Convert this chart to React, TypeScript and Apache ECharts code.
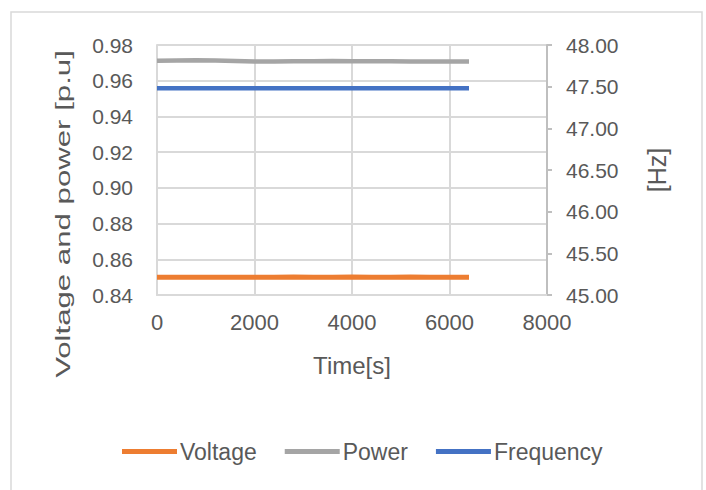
import React, { useEffect, useRef } from "react";
import * as echarts from "echarts";

const timeS = [0, 400, 800, 1200, 1600, 2000, 2400, 2800, 3200, 3600, 4000, 4400, 4800, 5200, 5600, 6000, 6400];
const voltage = [0.8500, 0.8499, 0.8500, 0.8500, 0.8499, 0.8500, 0.8500, 0.8501, 0.8500, 0.8500, 0.8501, 0.8500, 0.8500, 0.8501, 0.8500, 0.8500, 0.8500];
const power = [0.9712, 0.9713, 0.9714, 0.9713, 0.9711, 0.9708, 0.9708, 0.9709, 0.9709, 0.9710, 0.9709, 0.9709, 0.9709, 0.9708, 0.9708, 0.9708, 0.9708];
const frequency = [47.48, 47.48, 47.48, 47.48, 47.48, 47.48, 47.48, 47.48, 47.48, 47.48, 47.48, 47.48, 47.48, 47.48, 47.48, 47.48, 47.48];
const seriesNames = ["Voltage", "Power", "Frequency"];
const seriesColors = ["#ED7D31", "#A5A5A5", "#4472C4"];
const leftAxisName = "Voltage and power [p.u]";
const rightAxisName = "[Hz]";
const xAxisName = "Time[s]";

const FONT = "'Liberation Sans', Arial, sans-serif";
const TXT = "#595959";

export default function App() {
  const ref = useRef<HTMLDivElement>(null);
  useEffect(() => {
    document.body.style.margin = "0";
    if (!ref.current) return;
    const chart = echarts.init(ref.current, null, { renderer: "svg" });

    let scale = 1.5;
    try {
      const c = document.createElement("canvas").getContext("2d");
      if (c) {
        c.font = "21px 'Liberation Sans', Arial, sans-serif";
        const w = c.measureText(leftAxisName).width;
        if (w > 0) scale = 328 / w;
      }
    } catch (e) {}

    const pair = (vals: number[]) => timeS.map((t, i) => [t, vals[i]]);

    chart.setOption({
      animation: false,
      backgroundColor: "#ffffff",
      textStyle: { fontFamily: FONT },
      graphic: [
        {
          type: "rect",
          shape: { x: 11, y: 12, width: 691, height: 500 },
          style: { fill: "none", stroke: "#d9d9d9", lineWidth: 1.5 },
          silent: true,
        },
        {
          type: "text",
          x: 63,
          y: 214,
          rotation: Math.PI / 2,
          scaleX: scale,
          style: {
            text: leftAxisName,
            fontSize: 21,
            fontFamily: FONT,
            fill: TXT,
            align: "center",
            verticalAlign: "middle",
          },
        },
        {
          type: "text",
          x: 657,
          y: 170,
          rotation: Math.PI / 2,
          style: {
            text: rightAxisName,
            fontSize: 25,
            fontFamily: FONT,
            fill: TXT,
            align: "center",
            verticalAlign: "middle",
          },
        },
      ],
      legend: {
        left: 122,
        top: 440,
        padding: 0,
        icon: "rect",
        itemWidth: 55,
        itemHeight: 5,
        itemGap: 28,
        textStyle: { fontSize: 23, color: TXT, fontFamily: FONT, padding: [0, 0, 0, -2] },
        data: seriesNames,
      },
      grid: { left: 157, right: 159, top: 45, bottom: 195 },
      xAxis: {
        type: "value",
        min: 0,
        max: 8000,
        interval: 2000,
        name: xAxisName,
        nameLocation: "middle",
        nameGap: 58,
        nameTextStyle: { fontSize: 24, color: TXT, fontFamily: FONT },
        axisLine: { show: true, lineStyle: { color: "#d9d9d9", width: 2 } },
        axisTick: { show: false },
        axisLabel: { fontSize: 22, color: TXT, margin: 16, fontFamily: FONT, formatter: (v: number) => String(v) },
        splitLine: { show: true, lineStyle: { color: "#d9d9d9", width: 2 } },
      },
      yAxis: [
        {
          type: "value",
          min: 0.84,
          max: 0.98,
          interval: 0.02,
          axisLine: { show: true, lineStyle: { color: "#d9d9d9", width: 2 } },
          axisTick: { show: false },
          axisLabel: {
            fontSize: 21,
            color: TXT,
            margin: 24,
            padding: [4, 0, 0, 0],
            fontFamily: FONT,
            formatter: (v: number) => v.toFixed(2),
          },
          splitLine: { show: true, lineStyle: { color: "#d9d9d9", width: 2 } },
        },
        {
          type: "value",
          min: 45,
          max: 48,
          interval: 0.5,
          position: "right",
          axisLine: { show: true, lineStyle: { color: "#bfbfbf", width: 2 } },
          axisTick: { show: true, length: 5, inside: false, lineStyle: { color: "#bfbfbf", width: 2 } },
          axisLabel: {
            fontSize: 21,
            color: TXT,
            margin: 19,
            fontFamily: FONT,
            formatter: (v: number) => v.toFixed(2),
          },
          splitLine: { show: false },
        },
      ],
      series: [
        {
          name: seriesNames[0],
          type: "line",
          yAxisIndex: 0,
          data: pair(voltage),
          showSymbol: false,
          color: seriesColors[0],
          lineStyle: { width: 5, color: seriesColors[0] },
        },
        {
          name: seriesNames[1],
          type: "line",
          yAxisIndex: 0,
          data: pair(power),
          showSymbol: false,
          color: seriesColors[1],
          lineStyle: { width: 4.5, color: seriesColors[1] },
        },
        {
          name: seriesNames[2],
          type: "line",
          yAxisIndex: 1,
          data: pair(frequency),
          showSymbol: false,
          color: seriesColors[2],
          lineStyle: { width: 4.5, color: seriesColors[2] },
        },
      ],
    });
    return () => chart.dispose();
  }, []);
  return <div ref={ref} style={{ width: 706, height: 490 }} />;
}
